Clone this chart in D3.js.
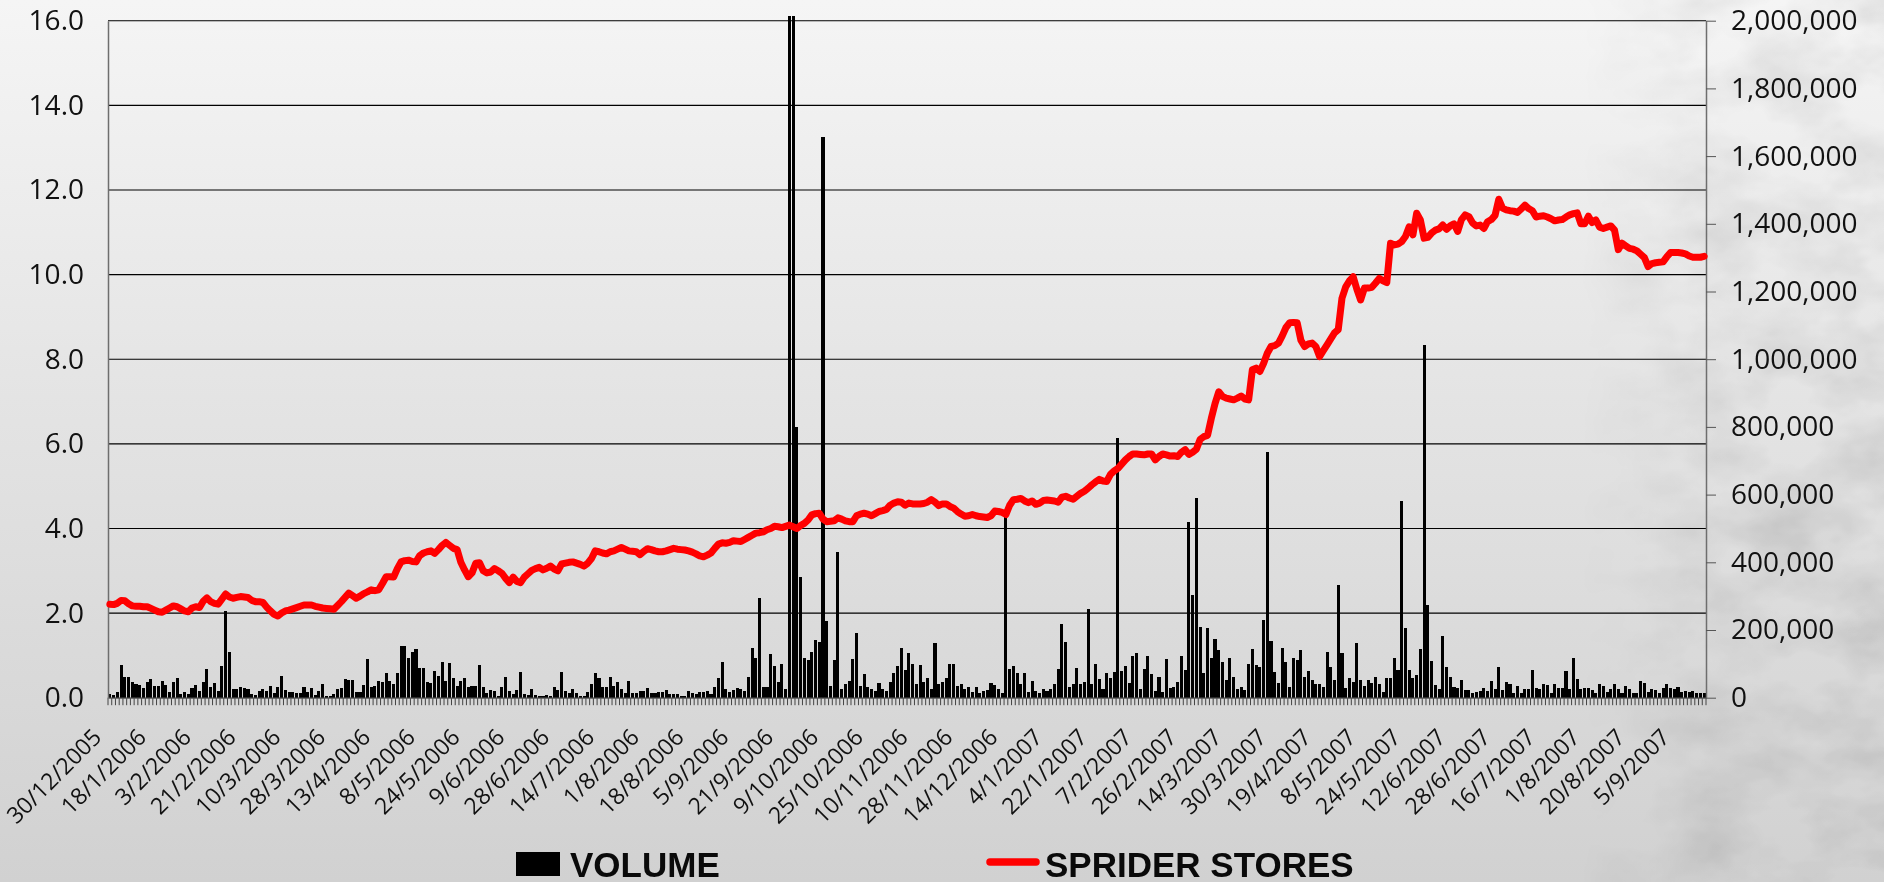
<!DOCTYPE html>
<html>
<head>
<meta charset="utf-8">
<script src="https://cdn.jsdelivr.net/npm/d3@7"></script>
<style>
  html, body { margin: 0; padding: 0; overflow: hidden; }
  body { width: 1884px; height: 882px; }
</style>
</head>
<body>
<div id="chart"></div>
<script>
// setting up constants
const FRAME_WIDTH = 1884;
const FRAME_HEIGHT = 882;
const PLOT = {left: 108, right: 1706, top: 20.7, bottom: 697.7};

// one label every 12 trading days
const LABEL_EVERY = 12;
const TICK_LABELS = ["30/12/2005", "18/1/2006", "3/2/2006", "21/2/2006", "10/3/2006", "28/3/2006",
    "13/4/2006", "8/5/2006", "24/5/2006", "9/6/2006", "28/6/2006", "14/7/2006", "1/8/2006",
    "18/8/2006", "5/9/2006", "21/9/2006", "9/10/2006", "25/10/2006", "10/11/2006", "28/11/2006",
    "14/12/2006", "4/1/2007", "22/1/2007", "7/2/2007", "26/2/2007", "14/3/2007", "30/3/2007",
    "19/4/2007", "8/5/2007", "24/5/2007", "12/6/2007", "28/6/2007", "16/7/2007", "1/8/2007",
    "20/8/2007", "5/9/2007"];

const PRICE_TICKS = [0, 2, 4, 6, 8, 10, 12, 14, 16];
const VOLUME_TICKS = [0, 200000, 400000, 600000, 800000, 1000000, 1200000, 1400000, 1600000, 1800000, 2000000];

const SERIES_NAMES = ["VOLUME", "SPRIDER STORES"];

// closing price, one per trading day
const PRICE = [
    2.21, 2.20, 2.23, 2.30, 2.29, 2.22, 2.17, 2.16, 2.16, 2.15,
    2.15, 2.11, 2.07, 2.03, 2.02, 2.07, 2.12, 2.17, 2.15, 2.10,
    2.05, 2.03, 2.12, 2.15, 2.13, 2.28, 2.36, 2.27, 2.23, 2.21,
    2.33, 2.45, 2.38, 2.35, 2.37, 2.39, 2.38, 2.37, 2.30, 2.27,
    2.27, 2.25, 2.14, 2.05, 1.97, 1.93, 2.00, 2.05, 2.07, 2.10,
    2.13, 2.16, 2.19, 2.19, 2.19, 2.16, 2.14, 2.12, 2.11, 2.10,
    2.09, 2.18, 2.27, 2.37, 2.47, 2.41, 2.35, 2.40, 2.46, 2.50,
    2.55, 2.53, 2.55, 2.70, 2.86, 2.86, 2.85, 3.05, 3.21, 3.24,
    3.25, 3.22, 3.21, 3.36, 3.42, 3.45, 3.47, 3.41, 3.50, 3.60,
    3.67, 3.60, 3.53, 3.50, 3.20, 3.02, 2.86, 2.95, 3.18, 3.19,
    3.00, 2.95, 2.97, 3.05, 3.00, 2.94, 2.82, 2.72, 2.85, 2.75,
    2.72, 2.85, 2.93, 3.01, 3.05, 3.08, 3.02, 3.06, 3.11, 3.04,
    3.00, 3.16, 3.18, 3.20, 3.21, 3.18, 3.15, 3.11, 3.18, 3.29,
    3.47, 3.45, 3.42, 3.40, 3.45, 3.47, 3.51, 3.55, 3.51, 3.47,
    3.46, 3.45, 3.38, 3.46, 3.52, 3.50, 3.47, 3.45, 3.45, 3.47,
    3.50, 3.53, 3.51, 3.50, 3.49, 3.47, 3.44, 3.40, 3.35, 3.33,
    3.37, 3.42, 3.53, 3.63, 3.66, 3.65, 3.67, 3.71, 3.70, 3.69,
    3.74, 3.79, 3.84, 3.89, 3.90, 3.92, 3.97, 4.00, 4.05, 4.04,
    4.02, 4.05, 4.08, 4.04, 4.00, 4.07, 4.12, 4.20, 4.32, 4.35,
    4.36, 4.22, 4.16, 4.17, 4.18, 4.25, 4.22, 4.18, 4.16, 4.16,
    4.30, 4.34, 4.36, 4.34, 4.30, 4.35, 4.40, 4.42, 4.45, 4.55,
    4.60, 4.63, 4.62, 4.55, 4.60, 4.58, 4.58, 4.58, 4.59, 4.62,
    4.68, 4.62, 4.54, 4.58, 4.58, 4.52, 4.48, 4.40, 4.34, 4.29,
    4.30, 4.33, 4.30, 4.28, 4.27, 4.26, 4.30, 4.41, 4.40, 4.38,
    4.33, 4.55, 4.68, 4.69, 4.71, 4.65, 4.61, 4.65, 4.57, 4.60,
    4.66, 4.67, 4.66, 4.65, 4.62, 4.74, 4.76, 4.72, 4.69, 4.76,
    4.83, 4.88, 4.95, 5.03, 5.10, 5.16, 5.12, 5.11, 5.28, 5.36,
    5.42, 5.52, 5.62, 5.70, 5.76, 5.76, 5.75, 5.74, 5.76, 5.76,
    5.62, 5.70, 5.76, 5.74, 5.71, 5.72, 5.70, 5.80, 5.86, 5.75,
    5.80, 5.87, 6.10, 6.17, 6.20, 6.60, 6.95, 7.23, 7.12, 7.08,
    7.06, 7.04, 7.08, 7.13, 7.06, 7.04, 7.75, 7.79, 7.71, 7.90,
    8.14, 8.30, 8.32, 8.38, 8.55, 8.75, 8.86, 8.87, 8.86, 8.45,
    8.30, 8.36, 8.38, 8.30, 8.06, 8.20, 8.34, 8.48, 8.62, 8.70,
    9.44, 9.71, 9.85, 9.95, 9.65, 9.40, 9.68, 9.68, 9.70, 9.80,
    9.91, 9.85, 9.81, 10.74, 10.70, 10.72, 10.78, 10.90, 11.13, 10.94,
    11.45, 11.29, 10.86, 10.88, 10.98, 11.05, 11.08, 11.17, 11.07, 11.15,
    11.20, 11.02, 11.30, 11.41, 11.37, 11.22, 11.15, 11.17, 11.09, 11.25,
    11.30, 11.40, 11.78, 11.57, 11.53, 11.51, 11.50, 11.47, 11.55, 11.64,
    11.56, 11.51, 11.36, 11.38, 11.39, 11.36, 11.32, 11.27, 11.29, 11.30,
    11.36, 11.41, 11.44, 11.46, 11.20, 11.20, 11.38, 11.23, 11.29, 11.12,
    11.09, 11.12, 11.15, 11.05, 10.59, 10.74, 10.68, 10.62, 10.60, 10.56,
    10.48, 10.40, 10.19, 10.26, 10.28, 10.29, 10.30, 10.42, 10.52, 10.52,
    10.52, 10.51, 10.49, 10.44, 10.41, 10.41, 10.41, 10.43
];

// traded volume in thousands of shares, one per trading day
const VOLUME_K = [
    10, 8, 16, 98, 62, 60, 47, 39, 37, 30,
    47, 54, 35, 35, 49, 37, 16, 45, 59, 12,
    18, 12, 30, 37, 21, 47, 85, 32, 44, 20,
    94, 256, 136, 26, 26, 33, 28, 26, 10, 8,
    20, 27, 20, 34, 15, 31, 65, 23, 16, 18,
    13, 15, 33, 16, 28, 8, 20, 40, 5, 5,
    10, 27, 30, 56, 52, 51, 17, 18, 37, 113,
    31, 35, 49, 45, 72, 49, 39, 74, 154, 153,
    118, 134, 143, 89, 89, 45, 42, 80, 64, 105,
    49, 102, 57, 34, 49, 59, 33, 35, 35, 98,
    33, 15, 23, 20, 6, 31, 62, 21, 11, 23,
    76, 10, 8, 26, 8, 6, 5, 8, 6, 33,
    23, 77, 21, 13, 26, 13, 5, 5, 16, 40,
    72, 59, 33, 33, 60, 34, 47, 25, 15, 50,
    13, 13, 21, 21, 28, 13, 13, 16, 16, 23,
    10, 10, 10, 6, 5, 21, 13, 10, 18, 18,
    20, 10, 31, 57, 106, 25, 18, 23, 28, 25,
    21, 60, 146, 116, 296, 31, 31, 129, 94, 47,
    101, 26, 2015, 2015, 800, 357, 116, 111, 136, 170,
    166, 1655, 228, 35, 111, 429, 26, 40, 49, 113,
    192, 34, 69, 33, 26, 20, 44, 26, 20, 47,
    74, 94, 146, 82, 133, 100, 40, 96, 47, 57,
    25, 163, 40, 47, 57, 99, 99, 34, 40, 25,
    32, 18, 32, 15, 20, 22, 44, 37, 27, 15,
    537, 86, 94, 72, 40, 74, 17, 50, 20, 15,
    25, 20, 27, 40, 86, 217, 164, 32, 39, 89,
    40, 47, 262, 40, 99, 54, 27, 74, 57, 77,
    766, 80, 94, 42, 124, 131, 25, 85, 123, 70,
    20, 60, 18, 115, 28, 32, 47, 123, 82, 518,
    303, 589, 210, 72, 205, 116, 172, 141, 106, 52,
    116, 62, 25, 32, 23, 101, 143, 98, 92, 230,
    727, 168, 77, 44, 146, 106, 32, 116, 111, 141,
    62, 80, 52, 40, 40, 32, 136, 90, 52, 333,
    131, 30, 57, 47, 163, 52, 34, 52, 42, 60,
    40, 18, 57, 57, 116, 82, 582, 205, 82, 57,
    67, 143, 1042, 274, 108, 37, 25, 182, 92, 62,
    32, 30, 52, 23, 23, 15, 18, 20, 28, 21,
    49, 25, 92, 23, 47, 40, 15, 34, 13, 25,
    25, 82, 28, 25, 39, 37, 15, 39, 28, 30,
    79, 25, 118, 55, 25, 28, 28, 23, 15, 40,
    34, 18, 25, 40, 25, 15, 34, 25, 15, 13,
    50, 42, 18, 25, 23, 15, 30, 39, 28, 25,
    32, 18, 21, 18, 20, 13, 15, 13
];

const FONT = "'Open Sans', 'DejaVu Sans', sans-serif";

const svg = d3.select('#chart')
    .append('svg')
        .attr('width', FRAME_WIDTH)
        .attr('height', FRAME_HEIGHT);

const defs = svg.append('defs');

// page background: grey vertical gradient
const bg = defs.append('linearGradient')
    .attr('id', 'bgGrad')
    .attr('x1', 0).attr('y1', 0).attr('x2', 0).attr('y2', 1);
bg.append('stop').attr('offset', '0%').attr('stop-color', '#f5f5f5');
bg.append('stop').attr('offset', '45%').attr('stop-color', '#e4e4e4');
bg.append('stop').attr('offset', '100%').attr('stop-color', '#d1d1d1');

// faded photo on the right edge, faked with noise
const photo = defs.append('filter')
    .attr('id', 'photo')
    .attr('x', 0).attr('y', 0).attr('width', 1).attr('height', 1);
photo.append('feTurbulence')
    .attr('type', 'fractalNoise')
    .attr('baseFrequency', '0.012 0.02')
    .attr('numOctaves', 4)
    .attr('seed', 7);
photo.append('feColorMatrix')
    .attr('type', 'matrix')
    .attr('values', '0.45 0.45 0.45 0 0.2  0.45 0.45 0.45 0 0.2  0.45 0.45 0.45 0 0.2  0 0 0 0 1');

// lighter at the top, a bit stronger lower down
const fade = defs.append('linearGradient')
    .attr('id', 'fadeGrad')
    .attr('x1', 0).attr('y1', 0).attr('x2', 1).attr('y2', 0);
fade.append('stop').attr('offset', '0%').attr('stop-color', '#fff').attr('stop-opacity', 0);
fade.append('stop').attr('offset', '35%').attr('stop-color', '#fff').attr('stop-opacity', 0.35);
fade.append('stop').attr('offset', '100%').attr('stop-color', '#fff').attr('stop-opacity', 0.5);
const fadeMask = defs.append('mask').attr('id', 'fadeMask');
fadeMask.append('rect')
    .attr('x', 1580).attr('y', 0)
    .attr('width', FRAME_WIDTH - 1580).attr('height', FRAME_HEIGHT)
    .attr('fill', 'url(#fadeGrad)');

svg.append('rect')
    .attr('width', FRAME_WIDTH)
    .attr('height', FRAME_HEIGHT)
    .attr('fill', 'url(#bgGrad)');

svg.append('rect')
    .attr('x', 1580).attr('y', 0)
    .attr('width', FRAME_WIDTH - 1580).attr('height', FRAME_HEIGHT)
    .attr('filter', 'url(#photo)')
    .attr('mask', 'url(#fadeMask)')
    .style('mix-blend-mode', 'multiply');

// scales
const xScale = d3.scaleBand()
    .domain(d3.range(PRICE.length))
    .range([PLOT.left, PLOT.right])
    .paddingInner(0.18)
    .paddingOuter(0.09);
const halfGap = (xScale.step() - xScale.bandwidth()) / 2;

const yPrice = d3.scaleLinear()
    .domain([0, 16])
    .range([PLOT.bottom, PLOT.top]);

const yVolume = d3.scaleLinear()
    .domain([0, 2000000])
    .range([PLOT.bottom, PLOT.top]);

// horizontal gridlines
svg.append('g')
    .selectAll('line')
    .data(PRICE_TICKS.filter(d => d > 0))
    .enter()
    .append('line')
        .attr('x1', PLOT.left)
        .attr('x2', PLOT.right)
        .attr('y1', d => yPrice(d))
        .attr('y2', d => yPrice(d))
        .attr('stroke', '#000')
        .attr('stroke-width', 1.1);

// volume bars (right axis)
svg.append('g')
    .attr('shape-rendering', 'crispEdges')
    .selectAll('rect')
    .data(VOLUME_K)
    .enter()
    .append('rect')
        .attr('x', (d, i) => xScale(i))
        .attr('y', d => yVolume(d * 1000))
        .attr('width', xScale.bandwidth())
        .attr('height', d => PLOT.bottom - yVolume(d * 1000))
        .attr('fill', '#000');

// category tick marks sit between the days
const boundaries = d3.range(PRICE.length).map(i => xScale(i) - halfGap).concat([PLOT.right]);
svg.append('g')
    .selectAll('line')
    .data(boundaries)
    .enter()
    .append('line')
        .attr('x1', d => d)
        .attr('x2', d => d)
        .attr('y1', PLOT.bottom)
        .attr('y2', PLOT.bottom + 7.5)
        .attr('stroke', '#333')
        .attr('stroke-width', 0.9);

// x axis with rotated labels every 12th day
const xAxis = svg.append('g')
    .attr('transform', 'translate(0,' + PLOT.bottom + ')')
    .call(d3.axisBottom(xScale)
        .tickValues(TICK_LABELS.map((d, k) => k * LABEL_EVERY))
        .tickFormat(i => TICK_LABELS[i / LABEL_EVERY])
        .tickSize(0)
        .tickSizeOuter(0));
xAxis.select('.domain').attr('stroke', '#555').attr('stroke-width', 1.2);
xAxis.selectAll('text')
    .attr('x', 0)
    .attr('y', 0)
    .attr('dy', 0)
    .attr('text-anchor', 'end')
    .attr('transform', 'translate(-7,41) rotate(-45)')
    .style('font-family', FONT)
    .style('font-size', '23px')
    .attr('fill', '#111');

// left axis (price)
const leftAxis = svg.append('g')
    .attr('transform', 'translate(' + PLOT.left + ',0)')
    .call(d3.axisLeft(yPrice)
        .tickValues(PRICE_TICKS)
        .tickFormat(d3.format('.1f'))
        .tickSize(0)
        .tickSizeOuter(0)
        .tickPadding(24));
leftAxis.select('.domain').attr('stroke', '#6e6e6e').attr('stroke-width', 1.5);
leftAxis.selectAll('text')
    .style('font-family', FONT)
    .style('font-size', '28px')
    .attr('fill', '#111');

// right axis (volume)
const rightAxis = svg.append('g')
    .attr('transform', 'translate(' + PLOT.right + ',0)')
    .call(d3.axisRight(yVolume)
        .tickValues(VOLUME_TICKS)
        .tickFormat(d3.format(','))
        .tickSize(10)
        .tickSizeOuter(0)
        .tickPadding(15));
rightAxis.select('.domain').attr('stroke', '#6e6e6e').attr('stroke-width', 1.5);
rightAxis.selectAll('.tick line').attr('stroke', '#555');
rightAxis.selectAll('text')
    .style('font-family', FONT)
    .style('font-size', '28px')
    .attr('fill', '#111');

// price line
const priceLine = d3.line()
    .x((d, i) => xScale(i) + xScale.bandwidth() / 2)
    .y(d => yPrice(d));
svg.append('path')
    .datum(PRICE)
    .attr('d', priceLine)
    .attr('fill', 'none')
    .attr('stroke', '#ff0000')
    .attr('stroke-width', 7)
    .attr('stroke-linejoin', 'round')
    .attr('stroke-linecap', 'round');

// legend
const legend = svg.append('g');
legend.append('rect')
    .attr('x', 516).attr('y', 852)
    .attr('width', 44).attr('height', 24)
    .attr('fill', '#000');
legend.append('text')
    .attr('x', 570).attr('y', 876.5)
    .text(SERIES_NAMES[0]);
legend.append('line')
    .attr('x1', 990).attr('x2', 1036)
    .attr('y1', 862).attr('y2', 862)
    .attr('stroke', '#ff0000')
    .attr('stroke-width', 7.5)
    .attr('stroke-linecap', 'round');
legend.append('text')
    .attr('x', 1045).attr('y', 876.5)
    .text(SERIES_NAMES[1]);
legend.selectAll('text')
    .style('font-family', "'Liberation Sans', Arial, sans-serif")
    .style('font-weight', 'bold')
    .style('font-size', '35px')
    .attr('fill', '#0a0a0a');
</script>
</body>
</html>
